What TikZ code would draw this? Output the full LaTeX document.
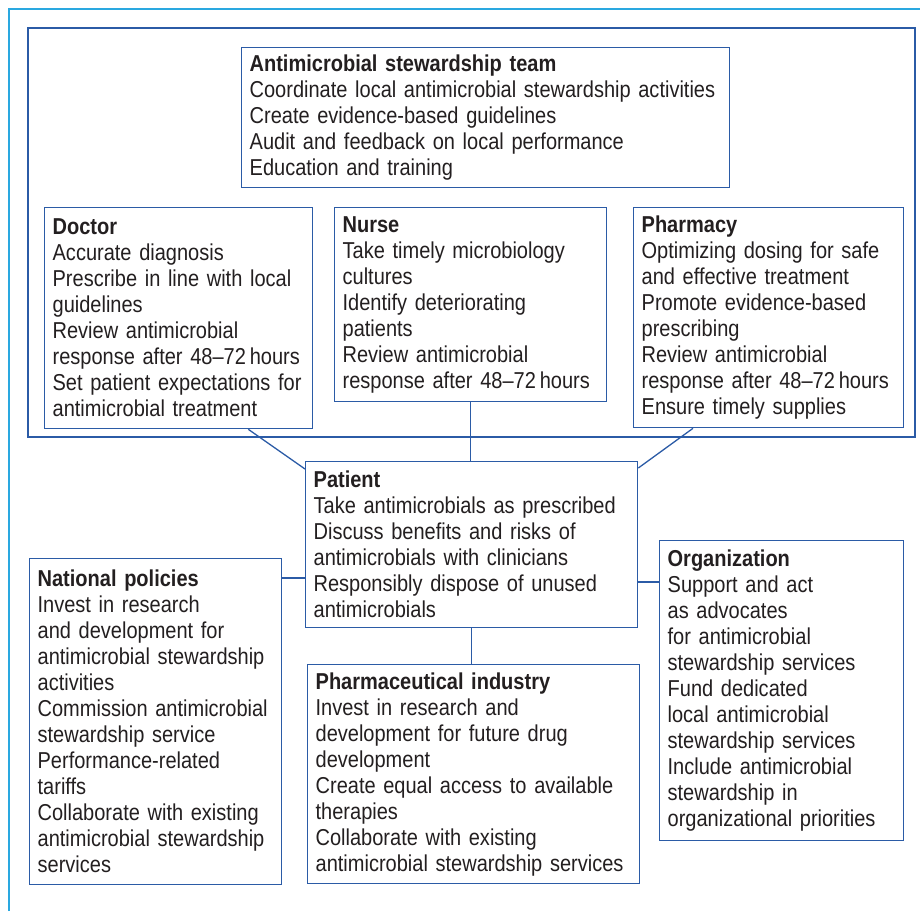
\documentclass[tikz,border=0pt]{standalone}
\usepackage{fontspec}
\setmainfont[FakeStretch=0.87]{Liberation Sans}
\usepackage{tikz}
\usetikzlibrary{positioning}
\definecolor{amsblue}{HTML}{2B5BA6}
\definecolor{pageblue}{HTML}{2AA8E0}
\definecolor{inktext}{HTML}{231F20}
\tikzset{
  rolebox/.style={rectangle,draw=amsblue,fill=white,line width=1.3pt,text=inktext,
    font=\fontsize{23}{26}\selectfont,align=left,anchor=north west,
    inner xsep=8pt,inner ysep=0pt},
  link/.style={draw=amsblue,line width=1.3pt},
}

\begin{document}
\begin{tikzpicture}[x=1pt,y=-1pt]
  \useasboundingbox (0,0) rectangle (920,911);
  % page rule and the stewardship area
  \draw[pageblue,line width=2pt] (9,911) -- (9,9) -- (920,9);
  \draw[amsblue,line width=1.3pt] (28,28) rectangle (915,437);

  \node[rolebox,text width=472pt,minimum height=140pt] (team) at (241,47) {
    \textbf{Antimicrobial stewardship team}\\
    Coordinate local antimicrobial stewardship activities\\
    Create evidence-based guidelines\\
    Audit and feedback on local performance\\
    Education and training};
  \node[rolebox,text width=252pt,minimum height=221pt] (doctor) at (44,207) {
    \textbf{Doctor}\\
    Accurate diagnosis\\
    Prescribe in line with local\\
    guidelines\\
    Review antimicrobial\\
    response after 48--72\,hours\\
    Set patient expectations for\\
    antimicrobial treatment};
  \node[rolebox,text width=256pt,minimum height=194pt] (nurse) at (334,207) {
    \textbf{Nurse}\\
    Take timely microbiology\\
    cultures\\
    Identify deteriorating\\
    patients\\
    Review antimicrobial\\
    response after 48--72\,hours};
  \node[rolebox,text width=254pt,minimum height=220pt] (pharmacy) at (633,207) {
    \textbf{Pharmacy}\\
    Optimizing dosing for safe\\
    and effective treatment\\
    Promote evidence-based\\
    prescribing\\
    Review antimicrobial\\
    response after 48--72\,hours\\
    Ensure timely supplies};
  \node[rolebox,text width=316pt,minimum height=166pt] (patient) at (305,461) {
    \textbf{Patient}\\
    Take antimicrobials as prescribed\\
    Discuss benefits and risks of\\
    antimicrobials with clinicians\\
    Responsibly dispose of unused\\
    antimicrobials};
  \node[rolebox,text width=236pt,minimum height=326pt] (national) at (29,558) {
    \textbf{National policies}\\
    Invest in research\\
    and development for\\
    antimicrobial stewardship\\
    activities\\
    Commission antimicrobial\\
    stewardship service\\
    Performance-related\\
    tariffs\\
    Collaborate with existing\\
    antimicrobial stewardship\\
    services};
  \node[rolebox,text width=316pt,minimum height=219pt] (pharma) at (307,664) {
    \textbf{Pharmaceutical industry}\\
    Invest in research and\\
    development for future drug\\
    development\\
    Create equal access to available\\
    therapies\\
    Collaborate with existing\\
    antimicrobial stewardship services};
  \node[rolebox,text width=228pt,minimum height=300pt] (org) at (659,540) {
    \textbf{Organization}\\
    Support and act\\
    as advocates\\
    for antimicrobial\\
    stewardship services\\
    Fund dedicated\\
    local antimicrobial\\
    stewardship services\\
    Include antimicrobial\\
    stewardship in\\
    organizational priorities};

  % links to the patient
  \draw[link] ([xshift=-65pt]doctor.south east) -- ([yshift=-8pt]patient.north west);
  \draw[link] (nurse.south) -- (nurse.south |- patient.north);
  \draw[link] ([xshift=60pt]pharmacy.south west) -- ([yshift=-7pt]patient.north east);
  \coordinate (natlink) at ([yshift=-20pt]national.north east);
  \draw[link] (natlink) -- (natlink -| patient.west);
  \coordinate (orglink) at ([yshift=-42pt]org.north west);
  \draw[link] (orglink) -- (orglink -| patient.east);
  \draw[link] (patient.south) -- (patient.south |- pharma.north);
\end{tikzpicture}
\end{document}
